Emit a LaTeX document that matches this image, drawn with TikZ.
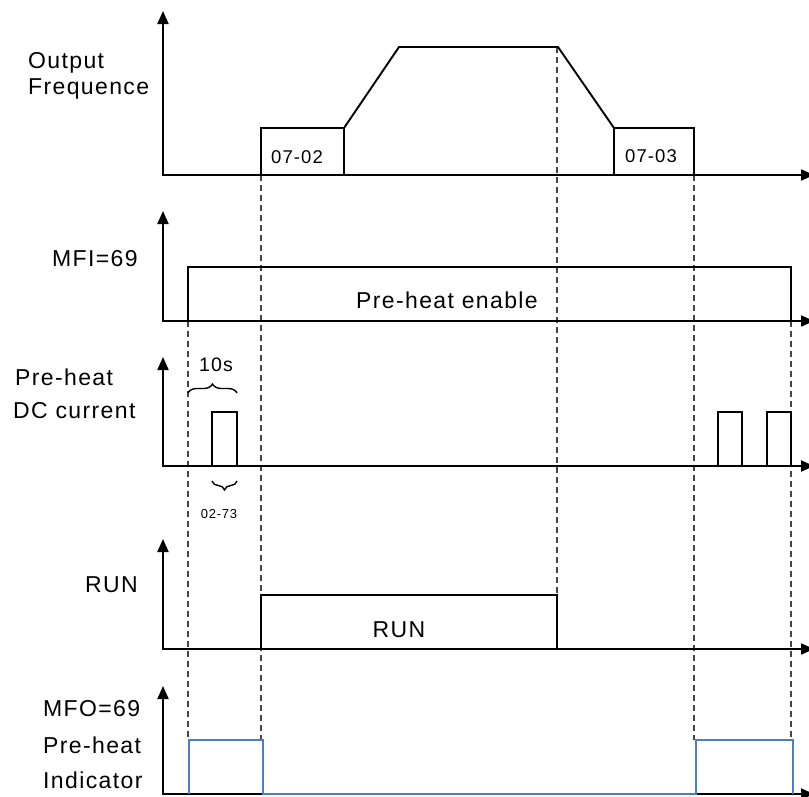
\documentclass[tikz,border=0pt]{standalone}
\usepackage{fontspec}
\setmainfont[LetterSpace=6]{Liberation Sans}
\usetikzlibrary{arrows.meta,decorations.pathreplacing}
\definecolor{sigblue}{RGB}{74,126,200}
\definecolor{guidegray}{RGB}{70,70,70}
\begin{document}
\begin{tikzpicture}[x=1pt,y=-1pt,
  axis/.style={line width=1.9pt,{Triangle[length=13pt,width=11pt]}-{Triangle[length=13pt,width=11pt]}},
  sig/.style={line width=1.9pt,line join=miter},
  bsig/.style={line width=1.9pt,draw=sigblue},
  guide/.style={line width=1.4pt,draw=guidegray,dash pattern=on 6pt off 4pt},
  lbl/.style={anchor=base west,inner sep=0pt,font=\fontsize{23}{27}\selectfont},
  clbl/.style={anchor=base,inner sep=0pt,font=\fontsize{23}{27}\selectfont},
  boxlbl/.style={anchor=base,inner sep=0pt,font=\fontsize{18.5}{22}\selectfont},
  brc/.style={line width=1.4pt,decorate,decoration={brace,amplitude=9pt}}
]
\useasboundingbox (0,0) rectangle (809,796);

% guide lines
\coordinate (g1t) at (188,321); \coordinate (g1b) at (188,740);
\coordinate (g2t) at (261,175); \coordinate (g2b) at (261,740);
\coordinate (g3t) at (557,47);  \coordinate (g3b) at (557,595);
\coordinate (g4t) at (694,175); \coordinate (g4b) at (694,740);
\coordinate (g5t) at (791,321); \coordinate (g5b) at (791,740);
\draw[guide] (g1t) -- (g1b);
\draw[guide] (g2t) -- (g2b);
\draw[guide] (g3t) -- (g3b);
\draw[guide] (g4t) -- (g4b);
\draw[guide] (g5t) -- (g5b);

% axes
\draw[axis] (163,11) -- (163,175) -- (814,175);
\draw[axis] (163,211) -- (163,321) -- (814,321);
\draw[axis] (163,357) -- (163,466) -- (814,466);
\draw[axis] (163,539) -- (163,649) -- (814,649);
\draw[axis] (163,686) -- (163,794) -- (814,794);

% panel 1: output frequency
\draw[sig] (261,175) rectangle (344,128);
\draw[sig] (614,175) rectangle (694,128);
\draw[sig] (344,128) -- (399,47) -- (558,47) -- (614,128);
\node[boxlbl] (b1) at (297,163) {07-02};
\node[boxlbl] (b2) at (651,162) {07-03};
\node[lbl] (l1a) at (28,68) {Output};
\node[lbl] (l1b) at (28,94) {Frequence};

% panel 2: MFI
\draw[sig] (188,321) -- (188,267) -- (791,267) -- (791,321);
\node[clbl] (pe) at (447,308) {Pre-heat enable};
\node[lbl] (l2) at (52,266) {MFI=69};

% panel 3: pre-heat DC current
\draw[sig] (212,466) -- (212,412) -- (237,412) -- (237,466);
\draw[sig] (718,466) -- (718,412) -- (742,412) -- (742,466);
\draw[sig] (767,466) -- (767,412) -- (791,412) -- (791,466);
\draw[brc] (188,393) -- (237,393);
\draw[brc] (237,481) -- (212,481);
\node[anchor=base,inner sep=0pt,font=\fontsize{19.5}{23}\selectfont] (t10) at (216,371) {10s};
\node[anchor=base,inner sep=0pt,font=\fontsize{13}{15}\selectfont] (t0273) at (219,518) {02-73};
\node[lbl] (l3a) at (15,385) {Pre-heat};
\node[lbl] (l3b) at (13,418) {DC current};

% panel 4: RUN
\draw[sig] (261,649) -- (261,595) -- (557,595) -- (557,649);
\node[clbl] (run2) at (399,637) {RUN};
\node[lbl] (l4) at (85,592) {RUN};

% panel 5: MFO
\draw[bsig] (189,794) -- (189,740) -- (263,740) -- (263,794) -- (696,794) -- (696,740) -- (793,740) -- (793,794);
\node[lbl] (l5a) at (43,716) {MFO=69};
\node[lbl] (l5b) at (43,753) {Pre-heat};
\node[lbl] (l5c) at (43,788) {Indicator};
\end{tikzpicture}
\end{document}
